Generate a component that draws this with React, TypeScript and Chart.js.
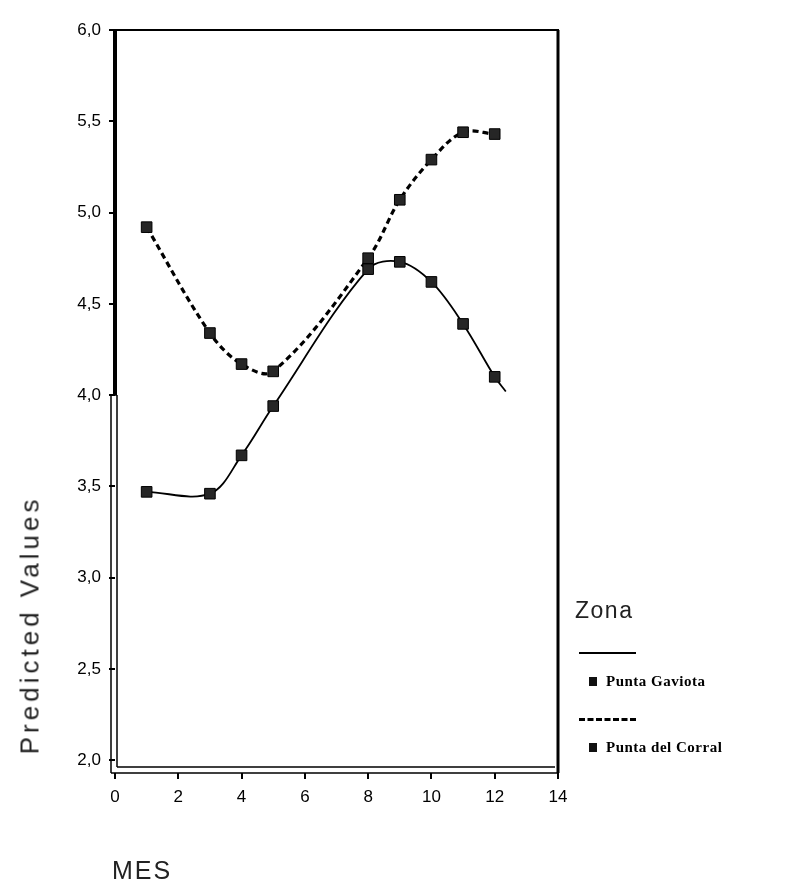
import React, { useEffect, useRef } from "react";
import { Chart, registerables } from "chart.js";
Chart.register(...registerables);

// ---- data ----
const MONTHS = [1, 3, 4, 5, 8, 9, 10, 11, 12];
const GAVIOTA = [3.47, 3.46, 3.67, 3.94, 4.69, 4.73, 4.62, 4.39, 4.1];
const CORRAL = [4.92, 4.34, 4.17, 4.13, 4.75, 5.07, 5.29, 5.44, 5.43];
// the fitted Gaviota curve runs a little past the last marker
const GAVIOTA_TAIL_X = 12.35;
const GAVIOTA_TAIL_Y = 4.02;
const SERIES_NAMES = ["Punta Gaviota", "Punta del Corral"];
const LEGEND_TITLE = "Zona";
const X_TITLE = "MES";
const Y_TITLE = "Predicted Values";
const X_TICKS = [0, 2, 4, 6, 8, 10, 12, 14];
const Y_TICKS = [2.0, 2.5, 3.0, 3.5, 4.0, 4.5, 5.0, 5.5, 6.0];
const Y_MIN = 1.93;
const Y_MAX = 6.0;
const X_MIN = 0;
const X_MAX = 14;

const W = 788;
const H = 887;
const PLOT_LEFT = 115;
const PLOT_RIGHT = 558;
const PLOT_TOP = 30;
const PLOT_BOTTOM = 773;
const X_AXIS_H = 45;

const framePlugin = {
  id: "spssFrame",
  afterDatasetsDraw(chart: any) {
    const { ctx, chartArea } = chart;
    const { left, right, top, bottom } = chartArea;
    const y4 = chart.scales.y.getPixelForValue(4.0);
    ctx.save();
    ctx.strokeStyle = "#000";
    ctx.lineCap = "butt";
    // top border
    ctx.lineWidth = 2;
    ctx.beginPath();
    ctx.moveTo(left, top);
    ctx.lineTo(right + 1, top);
    ctx.stroke();
    // right border
    ctx.lineWidth = 3;
    ctx.beginPath();
    ctx.moveTo(right, top);
    ctx.lineTo(right, bottom);
    ctx.stroke();
    // left thick axis (upper part)
    ctx.lineWidth = 4;
    ctx.beginPath();
    ctx.moveTo(left, top - 1);
    ctx.lineTo(left, y4);
    ctx.stroke();
    // left hollow (double) part
    ctx.lineWidth = 1.5;
    ctx.beginPath();
    ctx.moveTo(left - 4, y4);
    ctx.lineTo(left - 4, bottom);
    ctx.moveTo(left + 2, y4);
    ctx.lineTo(left + 2, bottom - 6);
    ctx.moveTo(left - 4, y4);
    ctx.lineTo(left + 2, y4);
    ctx.stroke();
    // bottom double line
    ctx.lineWidth = 1.5;
    ctx.beginPath();
    ctx.moveTo(left - 4, bottom);
    ctx.lineTo(right, bottom);
    ctx.moveTo(left + 2, bottom - 6);
    ctx.lineTo(right - 3, bottom - 6);
    ctx.stroke();
    ctx.restore();
  },
};

function LegendRow({ name, dashed, top }: { name: string; dashed: boolean; top: number }) {
  return (
    <>
      <div
        style={{
          position: "absolute",
          left: 579,
          top: top,
          width: 57,
          height: 0,
          borderTop: dashed ? "3px dashed #000" : "2px solid #000",
        }}
      />
      <div
        style={{
          position: "absolute",
          left: 589,
          top: top + 25,
          width: 8,
          height: 9,
          background: "#111",
        }}
      />
      <div
        style={{
          position: "absolute",
          left: 606,
          top: top + 19,
          fontFamily: "'Liberation Serif', 'DejaVu Serif', serif",
          fontSize: 15,
          fontWeight: "bold",
          lineHeight: "20px",
          color: "#000",
          whiteSpace: "nowrap",
          letterSpacing: 0.5,
        }}
      >
        {name}
      </div>
    </>
  );
}

export default function App() {
  const ref = useRef<HTMLCanvasElement | null>(null);

  useEffect(() => {
    document.body.style.margin = "0";
    const canvas = ref.current;
    if (!canvas) return;
    const mk = (vals: number[]) => MONTHS.map((m, i) => ({ x: m, y: vals[i] }));
    const gaviotaData = [...mk(GAVIOTA), { x: GAVIOTA_TAIL_X, y: GAVIOTA_TAIL_Y }];
    const gaviotaRadii = gaviotaData.map((_, i) => (i < MONTHS.length ? 7.5 : 0));
    const chart = new Chart(canvas, {
      type: "line",
      data: {
        datasets: [
          {
            label: SERIES_NAMES[0],
            data: gaviotaData,
            borderColor: "#000",
            backgroundColor: "#1a1a1a",
            borderWidth: 1.8,
            tension: 0.35,
            pointStyle: "rect",
            pointRadius: gaviotaRadii,
            pointBorderWidth: 1,
            pointBorderColor: "#000",
            pointBackgroundColor: "#262626",
            fill: false,
          },
          {
            label: SERIES_NAMES[1],
            data: mk(CORRAL),
            borderColor: "#000",
            backgroundColor: "#1a1a1a",
            borderWidth: 3.2,
            borderDash: [6, 4],
            tension: 0.35,
            pointStyle: "rect",
            pointRadius: 7.5,
            pointBorderWidth: 1,
            pointBorderColor: "#000",
            pointBackgroundColor: "#262626",
            fill: false,
          },
        ],
      },
      options: {
        responsive: false,
        animation: false,
        events: [],
        layout: {
          padding: {
            top: PLOT_TOP,
            left: 0,
            right: W - PLOT_RIGHT,
            bottom: H - PLOT_BOTTOM - X_AXIS_H,
          },
        },
        plugins: {
          legend: { display: false },
          tooltip: { enabled: false },
          title: { display: false },
        },
        scales: {
          x: {
            type: "linear",
            min: X_MIN,
            max: X_MAX,
            afterBuildTicks: (s: any) => {
              s.ticks = X_TICKS.map((v) => ({ value: v }));
            },
            afterFit: (s: any) => {
              s.height = X_AXIS_H;
            },
            border: { display: false },
            grid: { drawOnChartArea: false, drawTicks: true, tickLength: 6, color: "#000", lineWidth: 2 },
            ticks: {
              color: "#000",
              padding: 8,
              font: { family: "'Liberation Sans', Arial, sans-serif", size: 17 },
              callback: (v: any) => String(v),
            },
          },
          y: {
            type: "linear",
            min: Y_MIN,
            max: Y_MAX,
            afterBuildTicks: (s: any) => {
              s.ticks = Y_TICKS.map((v) => ({ value: v }));
            },
            afterFit: (s: any) => {
              s.width = PLOT_LEFT;
            },
            border: { display: false },
            grid: { drawOnChartArea: false, drawTicks: true, tickLength: 6, color: "#000", lineWidth: 2 },
            ticks: {
              color: "#000",
              padding: 8,
              font: { family: "'Liberation Sans', Arial, sans-serif", size: 17 },
              callback: (v: any) => Number(v).toFixed(1).replace(".", ","),
            },
          },
        },
      },
      plugins: [framePlugin],
    });
    return () => chart.destroy();
  }, []);

  return (
    <div style={{ position: "relative", width: W, height: H, background: "#fff", overflow: "hidden" }}>
      <canvas ref={ref} width={W} height={H} style={{ display: "block", width: W, height: H }} />
      <div
        style={{
          position: "absolute",
          left: 30,
          top: 625,
          transform: "translate(-50%, -50%) rotate(-90deg)",
          fontFamily: "'Liberation Sans', Arial, sans-serif",
          fontSize: 26,
          letterSpacing: 4,
          color: "#222",
          whiteSpace: "nowrap",
        }}
      >
        {Y_TITLE}
      </div>
      <div
        style={{
          position: "absolute",
          left: 112,
          top: 855,
          fontFamily: "'Liberation Sans', Arial, sans-serif",
          fontSize: 25,
          letterSpacing: 2,
          lineHeight: "30px",
          color: "#222",
        }}
      >
        {X_TITLE}
      </div>
      <div
        style={{
          position: "absolute",
          left: 575,
          top: 596,
          fontFamily: "'Liberation Sans', Arial, sans-serif",
          fontSize: 23,
          letterSpacing: 1.5,
          lineHeight: "28px",
          color: "#222",
        }}
      >
        {LEGEND_TITLE}
      </div>
      <LegendRow name={SERIES_NAMES[0]} dashed={false} top={652} />
      <LegendRow name={SERIES_NAMES[1]} dashed={true} top={718} />
    </div>
  );
}
